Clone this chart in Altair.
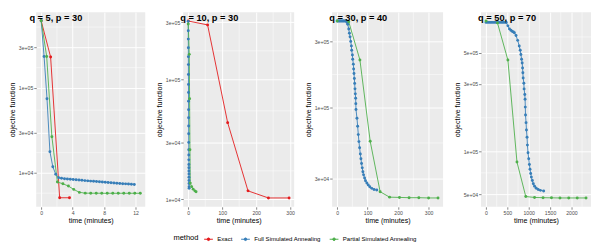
import altair as alt
import pandas as pd

methods = ["Exact", "Full Simulated Annealing", "Partial Simulated Annealing"]
colors = ["#E41A1C", "#377EB8", "#4DAF4A"]
titles = ["q = 5, p = 30", "q = 10, p = 30", "q = 30, p = 40", "q = 50, p = 70"]

# ---- panel 1: q = 5, p = 30
p1_exact_t = [0, 1.2, 2.35, 3.6]
p1_exact_v = [6.17e5, 2.31e5, 5.1e3, 5.1e3]
p1_full_t = [0, 0.37, 0.74, 1.11, 1.48, 1.85, 2.22, 2.59, 2.96, 3.33, 3.70, 4.07, 4.44,
             4.81, 5.18, 5.55, 5.92, 6.29, 6.66, 7.03, 7.40, 7.77, 8.14, 8.51, 8.88,
             9.25, 9.62, 9.99, 10.36, 10.73, 11.10, 11.47, 11.84]
p1_full_v = [6.17e5, 2.35e5, 7.47e4, 1.78e4, 1.18e4, 9.66e3, 8.8e3, 8.65e3, 8.55e3, 8.48e3,
             8.42e3, 8.36e3, 8.3e3, 8.24e3, 8.18e3, 8.12e3, 8.06e3, 8.01e3, 7.96e3, 7.92e3,
             7.87e3, 7.82e3, 7.77e3, 7.72e3, 7.67e3, 7.62e3, 7.57e3, 7.52e3, 7.47e3, 7.43e3,
             7.39e3, 7.34e3, 7.30e3]
p1_part_t = [0, 0.7, 1.36, 2.06, 2.76, 3.46, 4.14, 4.86, 5.6, 6.3, 7.0, 7.7, 8.4, 9.1,
             9.8, 10.5, 11.2, 11.9, 12.6]
p1_part_v = [6.17e5, 2.35e5, 2.67e4, 7.8e3, 7.45e3, 7.0e3, 6.4e3, 5.9e3, 5.78e3, 5.77e3,
             5.77e3, 5.76e3, 5.76e3, 5.76e3, 5.76e3, 5.76e3, 5.76e3, 5.76e3, 5.76e3]

# ---- panel 2: q = 10, p = 30
p2_exact_t = [0, 57, 116, 176, 236, 297]
p2_exact_v = [3.07e5, 2.85e5, 4.37e4, 1.18e4, 1.03e4, 1.03e4]
p2_full_t = [0, 0.1, 0.2, 0.3, 0.4, 0.5, 0.6, 0.7, 0.8, 0.9, 1.0, 1.1, 1.2, 1.3, 1.4,
             1.5, 1.6, 1.7, 1.8, 1.9, 2.0, 2.1, 2.2, 2.3, 2.4, 2.5, 2.6]
p2_full_v = [3.05e5, 2.55e5, 2.17e5, 1.84e5, 1.55e5, 1.33e5, 1.10e5, 9.1e4, 7.8e4, 6.6e4,
             5.6e4, 4.8e4, 4.1e4, 3.53e4, 2.99e4, 2.6e4, 2.35e4, 2.14e4, 1.96e4, 1.84e4,
             1.73e4, 1.63e4, 1.53e4, 1.44e4, 1.36e4, 1.28e4, 1.24e4]
p2_part_t = [0, 3, 4, 5, 6, 10, 14.5, 19.4, 23]
p2_part_v = [2.9e5, 1.62e5, 6.9e4, 2.6e4, 1.37e4, 1.28e4, 1.22e4, 1.18e4, 1.16e4]

# ---- panel 3: q = 30, p = 40
p3_full_t = [0, 3, 6, 9, 12, 15, 18, 21, 24, 27, 30, 32.5, 34.7, 38, 40.2, 42.3, 44.5,
             46.7, 47.7, 50, 51, 53, 54, 55.2, 56.4, 57.5, 58.5, 59.6, 60.7, 61.2, 61.8,
             65, 67.2, 69.4, 71.4, 73.7, 76, 78, 80, 82.4, 84.4, 86.7, 90, 93, 97.4, 102,
             107, 113.6, 121, 130]
p3_full_v = [4.26e5, 4.26e5, 4.26e5, 4.26e5, 4.26e5, 4.26e5, 4.26e5, 4.26e5, 4.26e5,
             4.26e5, 4.25e5, 4.15e5, 4.03e5, 3.72e5, 3.47e5, 3.26e5, 3.02e5, 2.8e5, 2.6e5,
             2.4e5, 2.24e5, 2.06e5, 1.9e5, 1.76e5, 1.62e5, 1.49e5, 1.36e5, 1.25e5, 1.16e5,
             1.06e5, 9.6e4, 8.3e4, 7.25e4, 6.3e4, 5.6e4, 5.05e4, 4.55e4, 4.2e4, 3.87e4,
             3.6e4, 3.37e4, 3.2e4, 3.04e4, 2.9e4, 2.79e4, 2.7e4, 2.62e4, 2.55e4, 2.5e4,
             2.48e4]
p3_part_t = [0, 38, 74.7, 108.4, 141, 172, 204.5, 236, 268, 300, 331]
p3_part_v = [4.26e5, 4.2e5, 2.21e5, 5.63e4, 2.41e4, 2.2e4, 2.19e4, 2.18e4, 2.18e4,
             2.17e4, 2.17e4]

# ---- panel 4: q = 50, p = 70
p4_full_t = [0, 40, 80, 120, 160, 200, 240, 280, 320, 360, 400, 440, 474, 512, 549, 580,
             611, 640, 664, 703, 741, 778, 801, 817, 833, 847, 856, 863, 870, 886, 892,
             908, 915, 920, 925, 938, 947, 961, 970, 984, 1000, 1016, 1030, 1046, 1062,
             1085, 1108, 1137, 1176, 1222, 1274, 1350]
p4_full_v = [8.17e5, 8.17e5, 8.17e5, 8.17e5, 8.17e5, 8.17e5, 8.17e5, 8.17e5, 8.17e5,
             8.17e5, 8.17e5, 8.17e5, 8.15e5, 7.72e5, 7.35e5, 7.2e5, 7.07e5, 7.0e5, 6.9e5,
             6.6e5, 6.1e5, 5.57e5, 5.19e5, 4.85e5, 4.49e5, 4.22e5, 3.89e5, 3.6e5, 3.31e5,
             3.04e5, 2.77e5, 2.53e5, 2.34e5, 2.06e5, 1.81e5, 1.6e5, 1.42e5, 1.26e5,
             1.11e5, 9.8e4, 8.9e4, 8.1e4, 7.5e4, 7.0e4, 6.6e4, 6.24e4, 5.93e4, 5.68e4,
             5.5e4, 5.4e4, 5.32e4, 5.27e4]
p4_part_t = [0, 268, 512, 725, 931, 1137, 1336, 1533, 1732, 1938, 2137, 2343]
p4_part_v = [8.35e5, 8.1e5, 4.43e5, 8.43e4, 4.81e4, 4.74e4, 4.72e4, 4.71e4, 4.7e4,
             4.7e4, 4.7e4, 4.7e4]

# axis breaks
x_major = [[0, 4, 8, 12], [0, 100, 200, 300], [0, 100, 200, 300], [0, 500, 1000, 1500, 2000]]
x_minor = [[2, 6, 10], [50, 150, 250], [50, 150, 250], [250, 750, 1250, 1750, 2250]]
y_major = [[1e4, 3e4, 1e5, 3e5], [1e4, 3e4, 1e5, 3e5], [3e4, 1e5, 3e5], [5e4, 1e5, 3e5, 5e5]]
y_minor = [[5.77e3, 1.732e4, 5.477e4, 1.732e5, 5.2e5], [1.732e4, 5.477e4, 1.732e5],
           [5.477e4, 1.732e5], [7.07e4, 1.732e5, 3.873e5, 6.45e5]]
x_domain = [[-0.63, 13.23], [-14.85, 311.85], [-16.55, 347.55], [-117, 2460]]
y_domain = [[3990, 7.8e5], [8690, 3.64e5], [1.87e4, 4.94e5], [4.07e4, 9.65e5]]
widths = [112, 114, 114, 113]
title_dx = [-7, -3, -3, -3]

panels = [
    [(p1_exact_t, p1_exact_v, methods[0]), (p1_full_t, p1_full_v, methods[1]), (p1_part_t, p1_part_v, methods[2])],
    [(p2_exact_t, p2_exact_v, methods[0]), (p2_full_t, p2_full_v, methods[1]), (p2_part_t, p2_part_v, methods[2])],
    [(p3_full_t, p3_full_v, methods[1]), (p3_part_t, p3_part_v, methods[2])],
    [(p4_full_t, p4_full_v, methods[1]), (p4_part_t, p4_part_v, methods[2])],
]

legend = alt.Legend(
    orient="none", legendX=141, legendY=228, direction="horizontal",
    titleOrient="left", title="method", titleFontSize=7.7, titleFontWeight="normal",
    titleColor="black", titlePadding=5, labelFontSize=6.2, labelColor="black",
    symbolType="M-1,0L1,0M-0.3,0A0.3,0.3,0,1,0,0.3,0A0.3,0.3,0,1,0,-0.3,0Z",
    symbolSize=81, symbolStrokeWidth=1, columnPadding=6, labelOffset=4,
)
color = alt.Color("method:N", scale=alt.Scale(domain=methods, range=colors), legend=legend)

charts = []
for i in range(4):
    rows = []
    for ts, vs, m in panels[i]:
        for t, v in zip(ts, vs):
            rows.append({"time": t, "value": v, "method": m})
    df = pd.DataFrame(rows)
    xs = alt.Scale(domain=x_domain[i], nice=False, zero=False)
    ys = alt.Scale(type="log", domain=y_domain[i], nice=False)
    xax = alt.Axis(values=x_major[i], format="d", title="time (minutes)")
    yax = alt.Axis(values=y_major[i], title="objective function",
                   labelExpr="replace(format(datum.value, '.0e'), 'e+', 'e+0')")
    xm = alt.Chart(pd.DataFrame({"time": x_minor[i]})).mark_rule(color="white", strokeWidth=0.5).encode(
        x=alt.X("time:Q", scale=xs, axis=xax))
    ym = alt.Chart(pd.DataFrame({"value": y_minor[i]})).mark_rule(color="white", strokeWidth=0.5).encode(
        y=alt.Y("value:Q", scale=ys, axis=yax))
    base = alt.Chart(df)
    line = base.mark_line(strokeWidth=0.9).encode(
        x=alt.X("time:Q", scale=xs, axis=xax),
        y=alt.Y("value:Q", scale=ys, axis=yax),
        color=color)
    pts = base.mark_point(filled=True, size=9, opacity=1).encode(
        x=alt.X("time:Q", scale=xs, axis=xax),
        y=alt.Y("value:Q", scale=ys, axis=yax),
        color=color)
    ttl = alt.Chart(pd.DataFrame({"label": [titles[i]]})).mark_text(
        align="left", baseline="top", fontSize=9.5, fontWeight="bold", color="black"
    ).encode(text="label:N", x=alt.value(title_dx[i]), y=alt.value(1))
    ch = alt.layer(xm, ym, line, pts, ttl).properties(width=widths[i], height=200)
    charts.append(ch)

chart = alt.hconcat(*charts, spacing=9).resolve_scale(
    x="independent", y="independent", color="shared"
).properties(
    padding={"left": 0, "top": 0, "right": 0, "bottom": 0}
).configure(font="Liberation Sans").configure_view(
    fill="#EBEBEB", stroke=None
).configure_axis(
    domain=False, grid=True, gridColor="white", gridWidth=1,
    tickColor="#333333", tickSize=2.5, tickWidth=0.6,
    labelColor="#4D4D4D", labelFontSize=5.3, labelPadding=1,
    titleFontSize=7.3, titleFontWeight="normal", titleColor="black", titlePadding=1.5,
).configure_axisY(minExtent=19, maxExtent=19).configure_axisX(titlePadding=1.5)

chart.save("out.html", embed_options={"renderer": "svg", "actions": False})
